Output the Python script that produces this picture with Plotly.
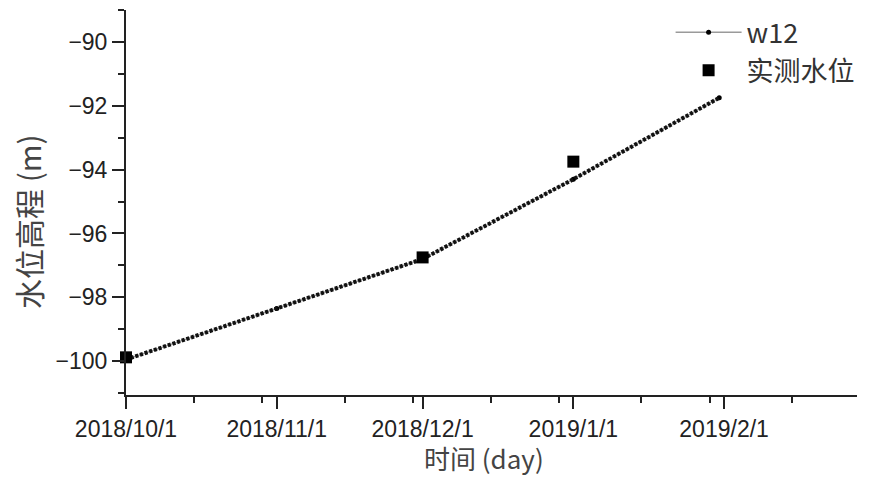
import plotly.graph_objects as go

# Simulated water level (w12) at key dates
sim_dates = ["2018-10-01", "2018-11-01", "2018-12-01", "2019-01-01", "2019-01-31"]
sim_level = [-99.95, -98.35, -96.80, -94.30, -91.75]

# Observed water level
obs_dates = ["2018-10-01", "2018-12-01", "2019-01-01"]
obs_level = [-99.88, -96.75, -93.75]

# Axis ticks
x_tick_dates = ["2018-10-01", "2018-11-01", "2018-12-01", "2019-01-01", "2019-02-01"]
x_tick_labels = ["2018/10/1", "2018/11/1", "2018/12/1", "2019/1/1", "2019/2/1"]
x_minor_dates = ["2018-10-15", "2018-10-29", "2018-11-15", "2018-11-29", "2018-12-15",
                 "2018-12-29", "2019-01-15", "2019-01-29", "2019-02-15"]
y_tick_vals = [-100, -98, -96, -94, -92, -90]

FONT = "Liberation Sans, Arial, Noto Sans CJK SC, sans-serif"
CJK = "Noto Sans CJK SC, Liberation Sans, sans-serif"

fig = go.Figure()

# thin grey line with point markers (legend entry for w12)
fig.add_trace(go.Scatter(
    x=sim_dates, y=sim_level, mode="lines+markers", name="w12",
    line=dict(color="#9a9a9a", width=1.5),
    marker=dict(color="black", size=5, symbol="circle"),
))
# dense daily markers rendered as a dotted black line
fig.add_trace(go.Scatter(
    x=sim_dates, y=sim_level, mode="lines", showlegend=False, hoverinfo="skip",
    line=dict(color="#111", width=4, dash="3.2px,1.7px"),
))
fig.add_trace(go.Scatter(
    x=obs_dates, y=obs_level, mode="markers", name="实测水位",
    marker=dict(color="black", size=12, symbol="square"),
    cliponaxis=False,
))

fig.update_layout(
    width=872, height=477,
    margin=dict(l=126, r=15, t=10, b=82, autoexpand=False),
    paper_bgcolor="white", plot_bgcolor="white",
    font=dict(family=FONT, color="#222", size=23),
    legend=dict(
        x=0.745, y=1.005, xanchor="left", yanchor="top",
        bgcolor="rgba(0,0,0,0)", itemwidth=66,
        font=dict(size=27, family=CJK, color="#333"),
    ),
    xaxis=dict(
        type="date",
        range=["2018-10-01", "2019-02-28 08:00"],
        tickmode="array", tickvals=x_tick_dates, ticktext=x_tick_labels,
        ticks="outside", ticklen=12, tickwidth=2, tickcolor="#222",
        showline=True, linecolor="#222", linewidth=2,
        showgrid=False, zeroline=False,
        tickfont=dict(size=23, family=FONT, color="#222"),
        minor=dict(tickmode="array", tickvals=x_minor_dates, ticks="outside",
                   ticklen=6, tickwidth=2, tickcolor="#222", showgrid=False),
    ),
    yaxis=dict(
        range=[-101.06, -89.0],
        tickmode="array", tickvals=y_tick_vals,
        ticks="outside", ticklen=12, tickwidth=2, tickcolor="#222",
        showline=True, linecolor="#222", linewidth=2,
        showgrid=False, zeroline=False,
        tickfont=dict(size=23, family=FONT, color="#222"),
        minor=dict(dtick=1, ticks="outside", ticklen=6, tickwidth=2,
                   tickcolor="#222", showgrid=False),
    ),
    annotations=[
        dict(text="时间 (day)", xref="paper", yref="paper", x=0.49, y=-0.162,
             xanchor="center", yanchor="middle", showarrow=False,
             font=dict(size=26, family=CJK, color="#444")),
        dict(text="水位高程 (m)", xref="paper", yref="paper", x=-0.135, y=0.45,
             xanchor="center", yanchor="middle", textangle=-90, showarrow=False,
             font=dict(size=30, family=CJK, color="#444")),
    ],
)

fig.write_html("out.html")
